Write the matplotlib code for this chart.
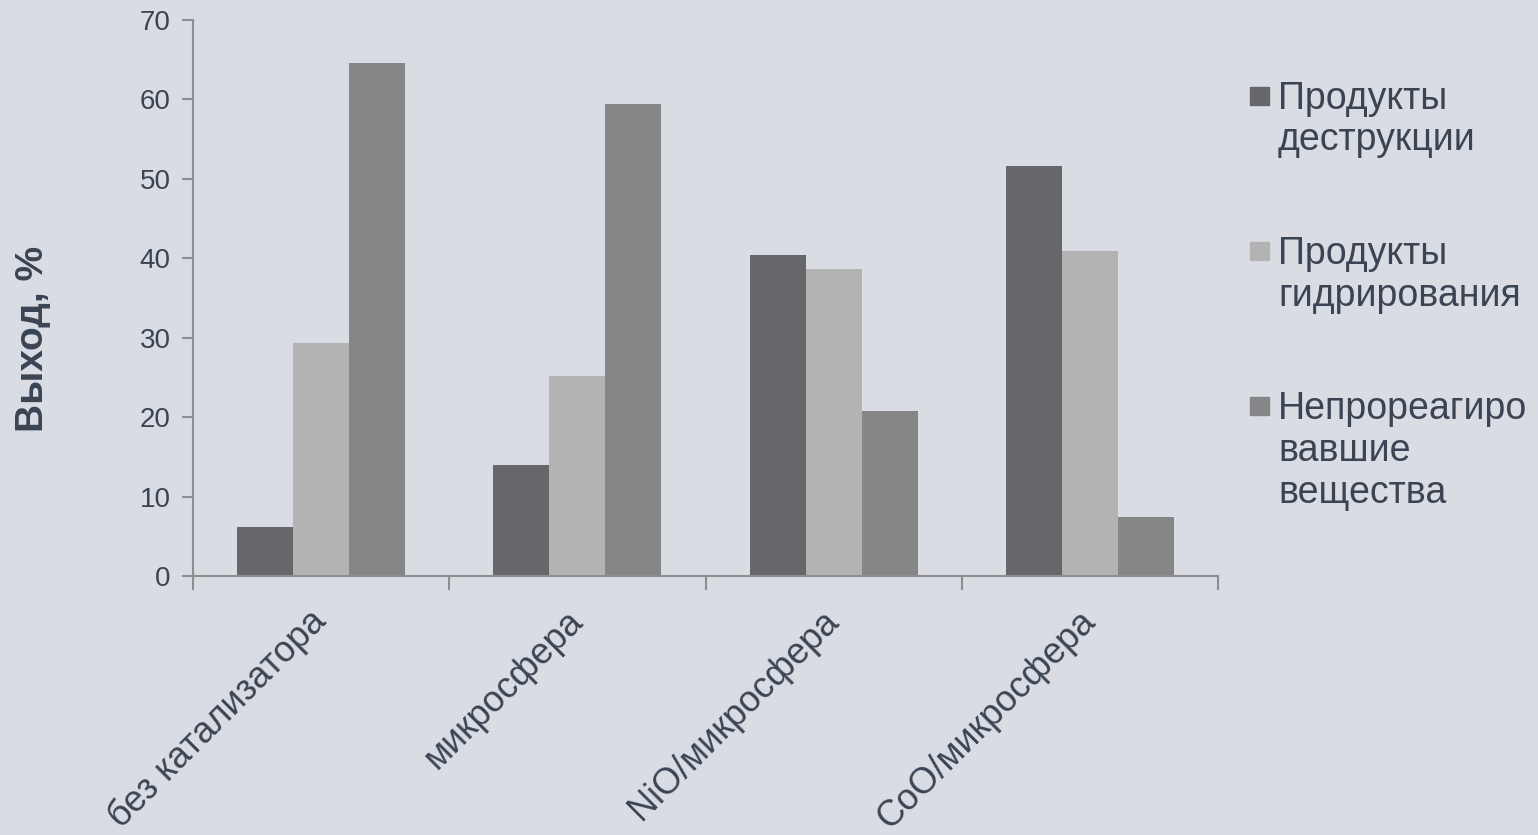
import matplotlib
matplotlib.use("Agg")
import matplotlib.pyplot as plt
import numpy as np
from matplotlib.patches import Rectangle

plt.rcParams['font.family'] = ['Liberation Sans', 'DejaVu Sans']

categories = ["без катализатора", "микросфера", "NiO/микросфера", "CoO/микросфера"]
series_names = ["Продукты\nдеструкции", "Продукты\nгидрирования", "Непрореагиро\nвавшие\nвещества"]
destruction = [6.2, 14.0, 40.4, 51.6]
hydrogenation = [29.3, 25.2, 38.7, 40.9]
unreacted = [64.6, 59.4, 20.8, 7.4]
yticks = [0, 10, 20, 30, 40, 50, 60, 70]

colors = ["#67666b", "#b3b3b3", "#868688"]
bg = "#d9dde3"
txt = "#3b4453"
axc = "#8e8e8e"

W, H = 1538, 835
fig = plt.figure(figsize=(W / 100, H / 100), dpi=100, facecolor=bg)
ax = fig.add_axes([193 / W, 1 - 576 / H, (1218 - 193) / W, (576 - 20) / H])
ax.set_facecolor(bg)

x = np.arange(len(categories))
bw = 56 / 256.25
for i, vals in enumerate([destruction, hydrogenation, unreacted]):
    ax.bar(x + (i - 1) * bw, vals, width=bw, color=colors[i], linewidth=0, zorder=2)

ax.set_xlim(-0.5, len(categories) - 0.5)
ax.set_ylim(0, 70)
ax.set_yticks(yticks)
ax.set_yticklabels([str(v) for v in yticks], fontsize=20, color=txt)
ax.tick_params(axis='y', length=8, width=1.5, color=axc, pad=8)

for s in ['top', 'right']:
    ax.spines[s].set_visible(False)
for s in ['left', 'bottom']:
    ax.spines[s].set_color(axc)
    ax.spines[s].set_linewidth(1.5)

ax.set_xticks(x)
ax.set_xticklabels(categories, fontsize=26, color=txt, rotation=45,
                   ha='right', va='center', rotation_mode='anchor')
ax.tick_params(axis='x', which='major', length=0, pad=29)
ax.set_xticks(np.arange(-0.5, len(categories)), minor=True)
ax.tick_params(axis='x', which='minor', length=10, width=1.5, color=axc)

fig.text(33 / W, 1 - 339 / H, "Выход, %", rotation=90, fontsize=28,
         fontweight='bold', color=txt, ha='center', va='center')

# legend
leg_lines = [[109, 150], [264, 306], [419, 461, 503]]
sq_top = [87, 242, 397]
for i, name in enumerate(series_names):
    fig.patches.append(Rectangle((1250 / W, 1 - (sq_top[i] + 18) / H), 19 / W, 18 / H,
                                 transform=fig.transFigure, color=colors[i]))
    for line, yb in zip(name.split("\n"), leg_lines[i]):
        fig.text(1278 / W, 1 - yb / H, line, fontsize=27, color=txt,
                 ha='left', va='baseline')

fig.savefig("out.png", dpi=100, facecolor=bg)
